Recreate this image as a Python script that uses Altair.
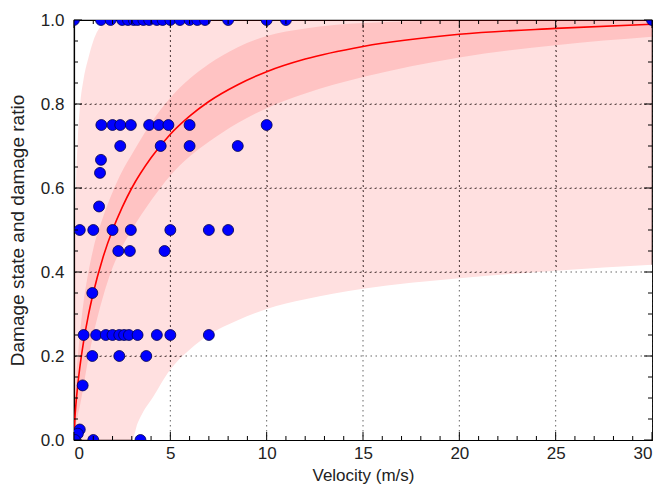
import altair as alt
import pandas as pd

# Observed damage state / ratio against flow velocity
obs_velocity = [
    0.0, 1.4, 1.9, 2.5, 2.8, 3.1, 3.3, 3.6, 3.9, 4.3, 4.6, 5.0, 5.5, 6.0, 6.4, 6.8, 8.0, 10.0, 11.0, 30.0,
    1.42, 2.0, 2.4, 2.95, 3.9, 4.4, 4.9, 6.0, 10.0,
    2.4, 4.5, 6.0, 8.5,
    1.4, 1.35, 1.3,
    0.3, 1.0, 2.0, 2.95, 5.0, 7.0, 8.0,
    2.3, 2.9, 4.7,
    0.95,
    0.5, 1.15, 1.65, 2.0, 2.35, 2.6, 2.85, 3.3, 4.3, 5.0, 7.0,
    0.95, 2.35, 3.75,
    0.45,
    0.3, 0.2, 0.05, 1.0, 3.45,
]
obs_damage = [
    1.0, 1.0, 1.0, 1.0, 1.0, 1.0, 1.0, 1.0, 1.0, 1.0, 1.0, 1.0, 1.0, 1.0, 1.0, 1.0, 1.0, 1.0, 1.0, 1.0,
    0.75, 0.75, 0.75, 0.75, 0.75, 0.75, 0.75, 0.75, 0.75,
    0.7, 0.7, 0.7, 0.7,
    0.667, 0.636, 0.556,
    0.5, 0.5, 0.5, 0.5, 0.5, 0.5, 0.5,
    0.45, 0.45, 0.45,
    0.35,
    0.25, 0.25, 0.25, 0.25, 0.25, 0.25, 0.25, 0.25, 0.25, 0.25, 0.25,
    0.2, 0.2, 0.2,
    0.13,
    0.025, 0.015, 0.0, 0.0, 0.0,
]

# Fitted mean curve and the inner (darker) band
curve_velocity = [0, 0.05, 0.1, 0.2, 0.3, 0.5, 0.75, 1.0, 1.5, 2.0, 2.5, 3.0, 4.0, 5.0, 6.0,
                  7.0, 8.5, 10, 12, 15, 20, 25, 30]
curve_mean = [0, 0.054, 0.085, 0.133, 0.172, 0.235, 0.298, 0.350, 0.434, 0.500, 0.554, 0.600,
              0.672, 0.728, 0.771, 0.806, 0.846, 0.877, 0.907, 0.937, 0.966, 0.980, 0.990]
inner_low = [0, 0.02, 0.035, 0.06, 0.08, 0.13, 0.195, 0.25, 0.34, 0.41, 0.46, 0.50,
             0.57, 0.63, 0.675, 0.71, 0.755, 0.79, 0.825, 0.864, 0.911, 0.94, 0.96]
inner_high = [0, 0.09, 0.14, 0.20, 0.25, 0.33, 0.40, 0.455, 0.53, 0.59, 0.64, 0.68,
              0.755, 0.815, 0.86, 0.895, 0.935, 0.962, 0.98, 0.993, 0.999, 1.0, 1.0]

# Outer (lighter) band edges
outer_hi_velocity = [0, 0.05, 0.1, 0.2, 0.3, 0.5, 0.75, 1.0, 1.5, 2.0, 30]
outer_high = [0, 0.5, 0.6, 0.72, 0.79, 0.86, 0.91, 0.95, 0.99, 1.0, 1.0]
outer_lo_velocity = [0, 3.0, 3.3, 3.6, 4.0, 5.0, 6.0, 7.0, 8.5, 10, 12, 15, 20, 25, 30]
outer_low = [0, 0, 0.04, 0.068, 0.095, 0.168, 0.215, 0.25, 0.285, 0.312, 0.335, 0.36, 0.385, 0.403, 0.417]

# Tick positions
x_major = [0, 5, 10, 15, 20, 25, 30]
x_minor = [v for v in range(31) if v % 5]
y_major = [0.0, 0.2, 0.4, 0.6, 0.8, 1.0]
y_minor = [round(i * 0.05, 2) for i in range(21) if i % 4]

W, H = 578, 420
FONT = "Liberation Sans"

obs = pd.DataFrame({"v": obs_velocity, "d": obs_damage})
curve = pd.DataFrame({"v": curve_velocity, "m": curve_mean, "il": inner_low, "ih": inner_high})
outer_hi_df = pd.DataFrame({"v": outer_hi_velocity, "hi": outer_high})
outer_lo_df = pd.DataFrame({"v": outer_lo_velocity, "lo": outer_low})

xs = alt.Scale(domain=[0, 30], nice=False, zero=False)
ys = alt.Scale(domain=[0, 1], nice=False, zero=False)

x_axis = alt.Axis(values=x_major, format="d", grid=True, ticks=False,
                  labelPadding=5, titlePadding=6, title="Velocity (m/s)")
y_axis = alt.Axis(values=y_major, format=".1f", grid=True, ticks=False,
                  labelPadding=10, titlePadding=13, title="Damage state and damage ratio",
                  titleFontSize=19)

# Light band: fill under the upper edge, then blank out the area under the lower edge
outer_top = alt.Chart(outer_hi_df).mark_area(
    color="#ff0000", opacity=0.12, interpolate="monotone", clip=True
).encode(
    x=alt.X("v:Q", scale=xs, axis=x_axis),
    y=alt.Y("hi:Q", scale=ys, axis=y_axis),
    y2=alt.datum(0),
)
outer_cut = alt.Chart(outer_lo_df).mark_area(
    color="white", opacity=1, interpolate="monotone", clip=True
).encode(
    x=alt.X("v:Q", scale=xs),
    y=alt.Y("lo:Q", scale=ys),
    y2=alt.datum(0),
)

base = alt.Chart(curve)
inner = base.mark_area(color="#ff0000", opacity=0.13, interpolate="monotone", clip=True).encode(
    x=alt.X("v:Q", scale=xs),
    y=alt.Y("il:Q", scale=ys),
    y2="ih:Q",
)
line = base.mark_line(color="#ff0000", strokeWidth=1.6, interpolate="monotone", clip=True).encode(
    x=alt.X("v:Q", scale=xs),
    y=alt.Y("m:Q", scale=ys),
)
points = alt.Chart(obs).mark_circle(
    size=120, color="#0000ff", opacity=1, stroke="#00004d", strokeWidth=0.8, clip=True
).encode(
    x=alt.X("v:Q", scale=xs),
    y=alt.Y("d:Q", scale=ys),
)


def grid_lines():
    gx = alt.Chart(pd.DataFrame({"t": x_major[1:-1]})).mark_rule(
        color="black", strokeWidth=0.8, strokeDash=[1.5, 3.5], opacity=0.75
    ).encode(x=alt.X("t:Q", scale=xs))
    gy = alt.Chart(pd.DataFrame({"t": y_major[1:-1]})).mark_rule(
        color="black", strokeWidth=0.8, strokeDash=[1.5, 3.5], opacity=0.75
    ).encode(y=alt.Y("t:Q", scale=ys))
    return [gx, gy]


def x_ticks(values, length):
    df = pd.DataFrame({"t": values})
    bottom = alt.Chart(df).mark_rule(color="black", strokeWidth=1).encode(
        x=alt.X("t:Q", scale=xs), y=alt.value(H), y2=alt.value(H - length))
    top = alt.Chart(df).mark_rule(color="black", strokeWidth=1).encode(
        x=alt.X("t:Q", scale=xs), y=alt.value(0), y2=alt.value(length))
    return [bottom, top]


def y_ticks(values, length):
    df = pd.DataFrame({"t": values})
    left = alt.Chart(df).mark_rule(color="black", strokeWidth=1).encode(
        y=alt.Y("t:Q", scale=ys), x=alt.value(0), x2=alt.value(length))
    right = alt.Chart(df).mark_rule(color="black", strokeWidth=1).encode(
        y=alt.Y("t:Q", scale=ys), x=alt.value(W), x2=alt.value(W - length))
    return [left, right]


ticks = x_ticks(x_major, 8) + x_ticks(x_minor, 4) + y_ticks(y_major, 8) + y_ticks(y_minor, 4)

chart = alt.layer(outer_top, outer_cut, inner, *grid_lines(), line, points, *ticks).properties(
    width=W,
    height=H,
    autosize=alt.AutoSizeParams(type="none"),
    padding={"left": 74, "top": 20, "right": 10, "bottom": 57},
    background="white",
).configure_view(
    stroke="black", strokeWidth=1.2
).configure_axis(
    labelFont=FONT, titleFont=FONT,
    labelFontSize=17, titleFontSize=17, titleFontWeight="normal",
    labelColor="#222222", titleColor="#222222",
    domainColor="black", domainWidth=1.2,
    gridColor="black", gridDash=[1.5, 3.5], gridOpacity=0.75, gridWidth=0.8,
)

chart.save("out.html", embed_options={"renderer": "svg", "actions": False})
